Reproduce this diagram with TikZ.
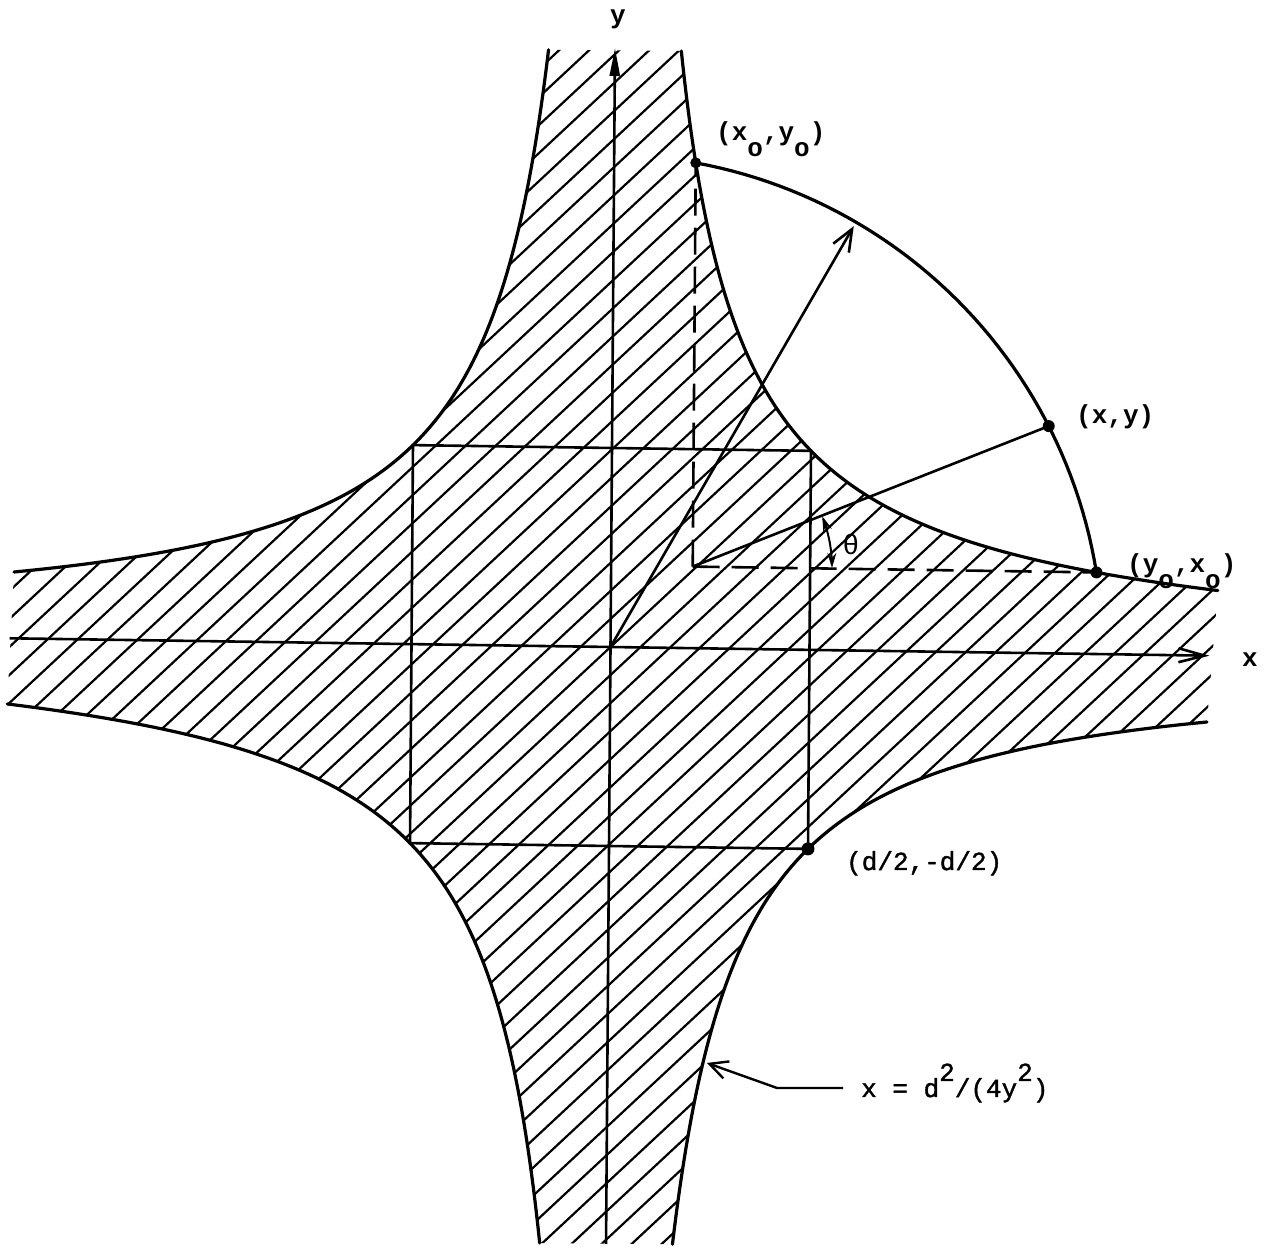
\documentclass[tikz,border=0pt]{standalone}
\usepackage{fontspec}
\setmonofont{Liberation Mono}
\newfontfamily\medmono[FakeBold=1.4]{Liberation Mono}
\newfontfamily\greekfont{Liberation Sans}
\usetikzlibrary{arrows.meta}
\newcommand{\lowo}{\raisebox{-16pt}{o}}
\newcommand{\upsq}{\raisebox{16pt}{2}}
\tikzset{
  curve/.style={line width=3.2pt, line cap=round, line join=round},
  hatch/.style={line width=2.2pt, line cap=round},
  frame/.style={line width=2.6pt, line join=miter},
  axisline/.style={line width=2.6pt},
  dashline/.style={line width=2.6pt, dash pattern=on 27pt off 12pt},
  thinline/.style={line width=2.6pt},
  dot/.style={circle, fill=black, inner sep=0pt, minimum size=12pt},
  lab/.style={font=\fontsize{26}{30}\selectfont\ttfamily\bfseries, inner sep=0pt, anchor=base west},
  glab/.style={font=\fontsize{26}{30}\selectfont\medmono, inner sep=0pt, anchor=base west},
}
\begin{document}
\begin{tikzpicture}[x={(199pt,-2.885pt)}, y={(1.4925pt,199pt)}]
\fill[white] (0pt,0pt) rectangle (1275pt,1251pt);
\useasboundingbox (0pt,0pt) rectangle (1275pt,1251pt);
\begin{scope}[shift={(610.5pt,604pt)}]
  % hatched cross-shaped region |xy| <= d^2/4
  \begin{scope}
    \clip plot[domain=-1.0986:1.115, samples=90, variable=\s] ({exp(\s)},{1/exp(\s)})
      -- plot[domain=1.0986:-1.0986, samples=90, variable=\s] ({exp(\s)},{-1/exp(\s)})
      -- plot[domain=-1.0986:1.1086, samples=90, variable=\s] ({-exp(\s)},{-1/exp(\s)})
      -- plot[domain=1.0986:-1.0986, samples=90, variable=\s] ({-exp(\s)},{1/exp(\s)})
      -- cycle;
    \begin{scope}[rotate=43]
      \foreach \k in {-48,...,48}
        \draw[hatch] (-1000pt,{\k*20.5pt}) -- (1000pt,{\k*20.5pt});
    \end{scope}
  \end{scope}
  % boundary curves
  \draw[curve] plot[domain=-1.0986:1.115, samples=90, variable=\s] ({exp(\s)},{1/exp(\s)});
  \draw[curve] plot[domain=1.0986:-1.0986, samples=90, variable=\s] ({exp(\s)},{-1/exp(\s)});
  \draw[curve] plot[domain=-1.0986:1.1086, samples=90, variable=\s] ({-exp(\s)},{-1/exp(\s)});
  \draw[curve] plot[domain=1.0986:-1.0986, samples=90, variable=\s] ({-exp(\s)},{1/exp(\s)});

  % named points
  \coordinate (O) at (0,0);
  \coordinate (xl) at (-3.02,0);
  \coordinate (xr) at (3.01,0);
  \coordinate (yb) at (0,-3.0);
  \coordinate (yt) at (0,3.01);
  \coordinate (SA) at (-1,1);
  \coordinate (SB) at (1,1);
  \coordinate (SC) at (1,-1);
  \coordinate (SD) at (-1,-1);
  \coordinate (P0) at (0.41,2.439);
  \coordinate (P1) at (2.1936,1.1418);
  \coordinate (P2) at (2.439,0.41);
  \coordinate (C) at (0.41,0.41);
  \coordinate (R) at (1.2065,2.1324);
  \coordinate (eqtip) at (0.5,-2.083);

  % square
  \draw[frame] (SD) -- (SC) -- (SB) -- (SA) -- cycle;
  % axes
  \draw[axisline, -{Straight Barb[length=26pt,width=14pt]}] (xl) -- (xr);
  \draw[axisline, -{Triangle[length=28pt,width=10pt]}] (yb) -- (yt);

  % circular arc through (x0,y0), (x,y), (y0,x0)
  \draw[curve] plot[domain=80.46:9.54, samples=50, variable=\a] ({2.473*cos(\a)},{2.473*sin(\a)});
  % radius vector
  \draw[thinline, -{Straight Barb[length=22pt,width=18pt]}] (O) -- (R);
  % dashed lines
  \draw[dashline] (C) -- (P0);
  \draw[dashline] (C) -- (P2);
  % line to (x,y)
  \draw[thinline] (C) -- (P1);
  % theta arc
  \draw[line width=2pt, {Stealth[length=15pt,width=9pt]}-{Stealth[length=15pt,width=9pt]}]
    plot[domain=0.3:22, samples=20, variable=\a] ({0.41+0.70*cos(\a)},{0.41+0.70*sin(\a)});

  % dots
  \node[dot, minimum size=11pt] (d0) at (P0) {};
  \node[dot] (d1) at (P1) {};
  \node[dot] (d2) at (P2) {};
  \node[dot, minimum size=13pt] (dq) at (SC) {};
\end{scope}

% labels (page coordinates)
\node[lab, anchor=base] (ylab) at (618pt,1227pt) {y};
\node[lab, anchor=base] (xlab) at (1250pt,584pt) {x};
\node[lab] (l0) at (716pt,1110pt) {(x\lowo,y\lowo)};
\node[lab] (l1) at (1076pt,827pt) {(x,y)};
\node[lab] (l2) at (1127pt,678pt) {(y\lowo,x\lowo)};
\node[font=\fontsize{28}{32}\selectfont\greekfont, inner sep=0pt] (th) at (851pt,706pt) {θ};
\node[glab] (lq) at (846pt,381pt) {(d/2,-d/2)};
\node[glab] (leq) at (861pt,154pt) {x = d\upsq/(4y\upsq)};
\draw[line width=2.4pt, -{Straight Barb[length=18pt,width=18pt]}]
  ([xshift=-18pt,yshift=9pt]leq.base west) -- ++(-66pt,0pt) -- (eqtip);
\end{tikzpicture}
\end{document}
